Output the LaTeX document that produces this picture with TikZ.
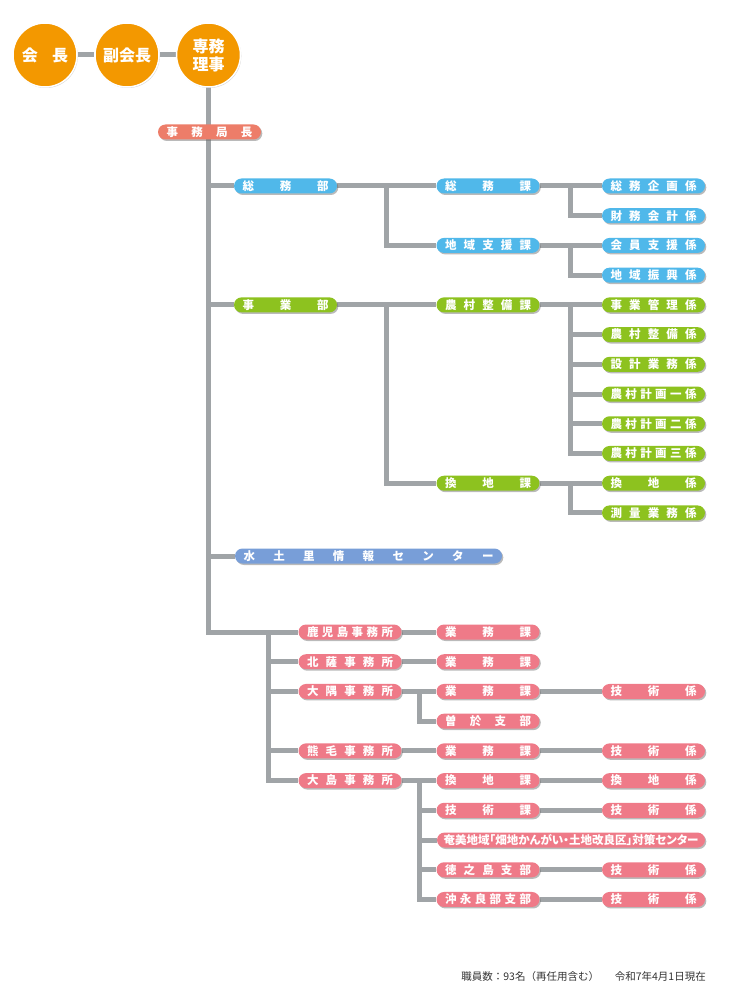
\documentclass[tikz,border=0pt]{standalone}
\usepackage{fontspec}
\setmainfont{Noto Sans CJK JP}
\usetikzlibrary{shadows,calc,backgrounds}
% chia deu chu trong o
\newcommand\spacedA[1]{\ifx\relax#1\else#1\expandafter\spacedB\fi}
\newcommand\spacedB[1]{\ifx\relax#1\else\hfill#1\expandafter\spacedB\fi}
\newcommand\spaced[2][86pt]{\hbox to #1{\expandafter\spacedA#2\relax}}
\begin{document}
\begin{tikzpicture}[x=1pt,y=-1pt]
			\definecolor{kam}{RGB}{243,152,0}
			\definecolor{sake}{RGB}{237,125,105}
			\definecolor{ao}{RGB}{80,184,234}
			\definecolor{midori}{RGB}{141,194,31}
			\definecolor{fuji}{RGB}{120,158,216}
			\definecolor{momo}{RGB}{239,122,136}
			\definecolor{hai}{RGB}{160,164,167}
			\tikzset{
				pill/.style={fill=#1, rounded corners=7.5pt, minimum height=15pt, inner xsep=8.5pt, inner ysep=0pt, text=white, font=\bfseries\fontsize{11.5}{13}\selectfont, drop shadow={shadow xshift=1.3pt, shadow yshift=-1.5pt, fill=black!60, opacity=.45}},
				maru/.style={circle, fill=kam, draw=white, line width=1.5pt, minimum size=64pt, inner sep=0pt, text=white, align=center, font=\bfseries\fontsize{16}{18}\selectfont, drop shadow={shadow xshift=.8pt, shadow yshift=-1pt, fill=black!50, opacity=.35}},
				sen/.style={draw=hai, line width=5pt}
			}
			\useasboundingbox (0,0) rectangle (730,1000);
			
			%Vong tron
			\node[maru] (kaicho) at (45,55) {会\hspace{.9em}長};
			\node[maru] (fuku) at (127,55) {副会長};
			\node[maru] (senmu) at (208.5,55) {専務\\理事};
			\node[pill=sake] (kyokucho) at (209.5,132) {\spaced{事務局長}};
			
			%Cot 1
			\node[pill=ao] (soumubu) at (285.5,186) {\spaced{総務部}};
			\node[pill=midori] (jigyobu) at (285.5,{186+29.72*4}) {\spaced{事業部}};
			\node[pill=fuji] (midorisato) at (368.5,556) {\spaced[250pt]{水土里情報センター}};
			
			%Cot 2, cot 3 (tren)
			\foreach \nm/\x/\k/\mau/\txt in {
				soumuka/488/0/ao/総務課,
				chiikika/488/2/ao/地域支援課,
				kikaku/653.5/0/ao/総務企画係,
				zaimu/653.5/1/ao/財務会計係,
				kaiin/653.5/2/ao/会員支援係,
				shinko/653.5/3/ao/地域振興係,
				nosonka/488/4/midori/農村整備課,
				kanchika/488/10/midori/換地課,
				jigyokanri/653.5/4/midori/事業管理係,
				nosonkei/653.5/5/midori/農村整備係,
				sekkei/653.5/6/midori/設計業務係,
				keikaku1/653.5/7/midori/農村計画一係,
				keikaku2/653.5/8/midori/農村計画二係,
				keikaku3/653.5/9/midori/農村計画三係,
				kanchikei/653.5/10/midori/換地係,
				sokuryo/653.5/11/midori/測量業務係}{
				\node[pill=\mau] (\nm) at (\x,{186+29.72*\k}) {\spaced{\txt}};
			}
			
			%Cac van phong (duoi)
			\foreach \nm/\x/\k/\txt in {
				kagoshima/350/0/鹿児島事務所,
				hokusatsu/350/1/北薩事務所,
				osumi/350/2/大隅事務所,
				kumage/350/4/熊毛事務所,
				oshima/350/5/大島事務所,
				gyomu1/488/0/業務課,
				gyomu2/488/1/業務課,
				gyomu3/488/2/業務課,
				soo/488/3/曽於支部,
				gyomu4/488/4/業務課,
				kanchika2/488/5/換地課,
				gijutsuka/488/6/技術課,
				tokunoshima/488/8/徳之島支部,
				okinoerabu/488/9/沖永良部支部,
				gijutsu1/653.5/2/技術係,
				gijutsu2/653.5/4/技術係,
				kanchikei2/653.5/5/換地係,
				gijutsu3/653.5/6/技術係,
				gijutsu4/653.5/8/技術係,
				gijutsu5/653.5/9/技術係}{
				\node[pill=momo] (\nm) at (\x,{632+29.72*\k}) {\spaced{\txt}};
			}
			\node[pill=momo, inner xsep=0pt, minimum width=268pt] (amami) at (571,{632+29.72*7}) {\addfontfeatures{RawFeature=+palt}奄美地域「畑地かんがい・土地改良区」対策センター};
			
			\node[font=\fontsize{10.5}{12}\selectfont, text=black!80, anchor=east, inner sep=0pt] (bikou) at (706,976) {職員数：93名（再任用含む）\hspace{1.5em}令和7年4月1日現在};
			
			%Duong noi
			\begin{scope}[on background layer]
				\draw[sen] (kaicho) -- (fuku) -- (senmu);
				\draw[sen] (senmu.center) |- (kagoshima.west);
				\foreach \n in {soumubu,jigyobu,midorisato}
					\draw[sen] (\n.west) -- (\n.west -| senmu.center);
				\coordinate (bx) at (268,632);
				\draw[sen] (bx) |- (oshima.west);
				\foreach \n in {hokusatsu,osumi,kumage}
					\draw[sen] (\n.west) -- (\n.west -| bx);
				% noi thang
				\foreach \a/\b in {
					soumubu/soumuka, soumuka/kikaku, chiikika/kaiin,
					jigyobu/nosonka, nosonka/jigyokanri, kanchika/kanchikei,
					kagoshima/gyomu1, hokusatsu/gyomu2, osumi/gyomu3, kumage/gyomu4, oshima/kanchika2,
					gyomu3/gijutsu1, gyomu4/gijutsu2, kanchika2/kanchikei2, gijutsuka/gijutsu3,
					tokunoshima/gijutsu4, okinoerabu/gijutsu5}{
					\draw[sen] (\a.east) -- (\b.west);
				}
				% noi gap khuc
				\foreach \a/\b/\c in {
					soumubu/soumuka/chiikika,
					soumuka/kikaku/zaimu,
					chiikika/kaiin/shinko,
					jigyobu/nosonka/kanchika,
					nosonka/jigyokanri/nosonkei,
					nosonka/jigyokanri/sekkei,
					nosonka/jigyokanri/keikaku1,
					nosonka/jigyokanri/keikaku2,
					nosonka/jigyokanri/keikaku3,
					kanchika/kanchikei/sokuryo,
					osumi/gyomu3/soo,
					oshima/kanchika2/gijutsuka,
					oshima/kanchika2/amami,
					oshima/kanchika2/tokunoshima,
					oshima/kanchika2/okinoerabu}{
					\draw[sen] (\c.west) -| ($(\a.east)!.5!(\b.west)$);
				}
			\end{scope}
		\end{tikzpicture}
\end{document}
